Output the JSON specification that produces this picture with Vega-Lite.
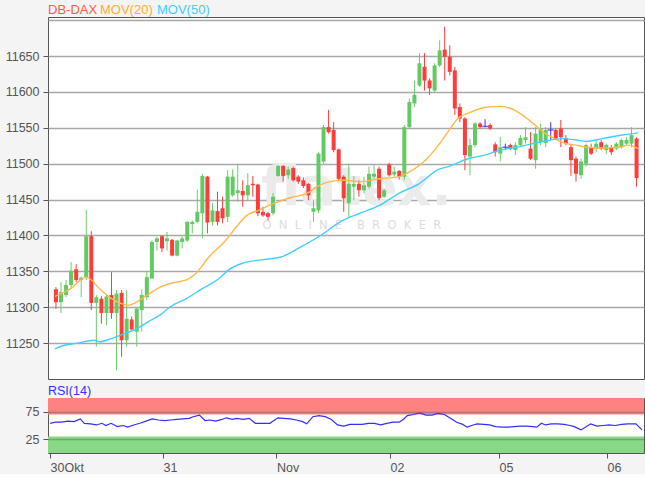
{
  "$schema": "https://vega.github.io/schema/vega-lite/v6.json",
  "background": "#f4f4f4",
  "padding": {"left": 4, "top": 2, "right": 0, "bottom": 0},
  "bounds": "flush",
  "spacing": 19,
  "config": {
    "font": "Liberation Sans",
    "view": {"stroke": "#555555", "strokeWidth": 1, "fill": "white"},
    "axis": {"labelFont": "Liberation Sans", "labelFontSize": 12.5, "labelColor": "#555555", "tickColor": "#555555", "domain": false, "title": null},
    "legend": {"labelFont": "Liberation Sans", "labelFontSize": 13, "title": null, "orient": "none", "direction": "horizontal", "padding": 0, "symbolType": "circle", "symbolSize": 0, "symbolOpacity": 0, "symbolStrokeWidth": 0, "labelOffset": 0, "legendY": -14}
  },
  "datasets": {
    "candles": [
      {"i":0,"o":11325,"h":11328,"l":11298,"c":11307},
      {"i":1,"o":11307,"h":11335,"l":11292,"c":11321},
      {"i":2,"o":11317,"h":11338,"l":11314,"c":11331},
      {"i":3,"o":11331,"h":11363,"l":11327,"c":11351},
      {"i":4,"o":11353,"h":11360,"l":11335,"c":11338},
      {"i":5,"o":11338,"h":11343,"l":11314,"c":11341},
      {"i":6,"o":11342,"h":11436,"l":11338,"c":11399},
      {"i":7,"o":11399,"h":11406,"l":11296,"c":11306},
      {"i":8,"o":11306,"h":11317,"l":11245,"c":11314},
      {"i":9,"o":11312,"h":11316,"l":11277,"c":11292},
      {"i":10,"o":11292,"h":11318,"l":11275,"c":11315},
      {"i":11,"o":11317,"h":11349,"l":11284,"c":11292},
      {"i":12,"o":11292,"h":11324,"l":11212,"c":11319},
      {"i":13,"o":11320,"h":11324,"l":11231,"c":11254},
      {"i":14,"o":11254,"h":11324,"l":11245,"c":11284},
      {"i":15,"o":11283,"h":11287,"l":11268,"c":11269},
      {"i":16,"o":11266,"h":11300,"l":11245,"c":11298},
      {"i":17,"o":11296,"h":11325,"l":11266,"c":11317},
      {"i":18,"o":11314,"h":11349,"l":11310,"c":11342},
      {"i":19,"o":11340,"h":11393,"l":11340,"c":11391},
      {"i":20,"o":11391,"h":11398,"l":11379,"c":11396},
      {"i":21,"o":11399,"h":11400,"l":11377,"c":11382},
      {"i":22,"o":11392,"h":11405,"l":11379,"c":11396},
      {"i":23,"o":11394,"h":11395,"l":11371,"c":11372},
      {"i":24,"o":11372,"h":11394,"l":11371,"c":11393},
      {"i":25,"o":11391,"h":11399,"l":11382,"c":11396},
      {"i":26,"o":11393,"h":11420,"l":11391,"c":11419},
      {"i":27,"o":11416,"h":11421,"l":11403,"c":11419},
      {"i":28,"o":11419,"h":11464,"l":11417,"c":11433},
      {"i":29,"o":11431,"h":11486,"l":11396,"c":11483},
      {"i":30,"o":11482,"h":11483,"l":11403,"c":11418},
      {"i":31,"o":11419,"h":11445,"l":11414,"c":11435},
      {"i":32,"o":11434,"h":11461,"l":11414,"c":11419},
      {"i":33,"o":11438,"h":11454,"l":11417,"c":11424},
      {"i":34,"o":11426,"h":11491,"l":11419,"c":11482},
      {"i":35,"o":11456,"h":11492,"l":11454,"c":11482},
      {"i":36,"o":11459,"h":11500,"l":11447,"c":11463},
      {"i":37,"o":11462,"h":11477,"l":11440,"c":11456},
      {"i":38,"o":11456,"h":11487,"l":11449,"c":11470},
      {"i":39,"o":11472,"h":11483,"l":11454,"c":11470},
      {"i":40,"o":11471,"h":11472,"l":11427,"c":11431},
      {"i":41,"o":11433,"h":11440,"l":11426,"c":11428},
      {"i":42,"o":11431,"h":11433,"l":11421,"c":11426},
      {"i":43,"o":11431,"h":11459,"l":11428,"c":11454},
      {"i":44,"o":11483,"h":11498,"l":11482,"c":11497},
      {"i":45,"o":11497,"h":11498,"l":11475,"c":11483},
      {"i":46,"o":11484,"h":11496,"l":11479,"c":11492},
      {"i":47,"o":11494,"h":11496,"l":11475,"c":11477},
      {"i":48,"o":11482,"h":11484,"l":11472,"c":11475},
      {"i":49,"o":11477,"h":11481,"l":11466,"c":11469},
      {"i":50,"o":11472,"h":11473,"l":11449,"c":11456},
      {"i":51,"o":11433,"h":11449,"l":11419,"c":11438},
      {"i":52,"o":11435,"h":11516,"l":11431,"c":11514},
      {"i":53,"o":11503,"h":11554,"l":11500,"c":11551},
      {"i":54,"o":11551,"h":11575,"l":11542,"c":11544},
      {"i":55,"o":11547,"h":11558,"l":11516,"c":11519},
      {"i":56,"o":11520,"h":11521,"l":11477,"c":11479},
      {"i":57,"o":11482,"h":11484,"l":11433,"c":11452},
      {"i":58,"o":11445,"h":11500,"l":11425,"c":11472},
      {"i":59,"o":11468,"h":11483,"l":11449,"c":11472},
      {"i":60,"o":11472,"h":11477,"l":11454,"c":11463},
      {"i":61,"o":11463,"h":11482,"l":11459,"c":11470},
      {"i":62,"o":11468,"h":11496,"l":11465,"c":11486},
      {"i":63,"o":11482,"h":11498,"l":11479,"c":11486},
      {"i":64,"o":11493,"h":11496,"l":11449,"c":11452},
      {"i":65,"o":11454,"h":11465,"l":11452,"c":11463},
      {"i":66,"o":11499,"h":11501,"l":11482,"c":11484},
      {"i":67,"o":11485,"h":11496,"l":11482,"c":11489},
      {"i":68,"o":11490,"h":11491,"l":11478,"c":11482},
      {"i":69,"o":11482,"h":11554,"l":11477,"c":11551},
      {"i":70,"o":11551,"h":11591,"l":11549,"c":11586},
      {"i":71,"o":11584,"h":11616,"l":11579,"c":11596},
      {"i":72,"o":11609,"h":11654,"l":11607,"c":11640},
      {"i":73,"o":11635,"h":11654,"l":11602,"c":11616},
      {"i":74,"o":11616,"h":11619,"l":11596,"c":11605},
      {"i":75,"o":11602,"h":11640,"l":11600,"c":11637},
      {"i":76,"o":11637,"h":11672,"l":11635,"c":11658},
      {"i":77,"o":11659,"h":11691,"l":11616,"c":11649},
      {"i":78,"o":11649,"h":11665,"l":11623,"c":11628},
      {"i":79,"o":11630,"h":11635,"l":11568,"c":11577},
      {"i":80,"o":11579,"h":11584,"l":11558,"c":11563},
      {"i":81,"o":11563,"h":11565,"l":11491,"c":11512},
      {"i":82,"o":11510,"h":11535,"l":11484,"c":11526},
      {"i":83,"o":11526,"h":11558,"l":11523,"c":11556},
      {"i":84,"o":11556,"h":11558,"l":11549,"c":11551},
      {"i":85,"o":11552,"h":11562,"l":11551,"c":11552},
      {"i":86,"o":11554,"h":11556,"l":11547,"c":11549},
      {"i":87,"o":11527,"h":11530,"l":11510,"c":11516},
      {"i":88,"o":11514,"h":11537,"l":11503,"c":11523},
      {"i":89,"o":11523,"h":11528,"l":11519,"c":11523},
      {"i":90,"o":11526,"h":11528,"l":11519,"c":11521},
      {"i":91,"o":11519,"h":11530,"l":11512,"c":11526},
      {"i":92,"o":11526,"h":11540,"l":11523,"c":11536},
      {"i":93,"o":11533,"h":11551,"l":11528,"c":11537},
      {"i":94,"o":11521,"h":11544,"l":11505,"c":11507},
      {"i":95,"o":11505,"h":11551,"l":11493,"c":11542},
      {"i":96,"o":11530,"h":11556,"l":11526,"c":11548},
      {"i":97,"o":11529,"h":11551,"l":11523,"c":11547},
      {"i":98,"o":11547,"h":11558,"l":11533,"c":11547},
      {"i":99,"o":11547,"h":11549,"l":11533,"c":11535},
      {"i":100,"o":11549,"h":11561,"l":11523,"c":11537},
      {"i":101,"o":11535,"h":11540,"l":11526,"c":11528},
      {"i":102,"o":11523,"h":11528,"l":11483,"c":11505},
      {"i":103,"o":11507,"h":11510,"l":11475,"c":11486},
      {"i":104,"o":11484,"h":11507,"l":11479,"c":11503},
      {"i":105,"o":11500,"h":11528,"l":11496,"c":11526},
      {"i":106,"o":11523,"h":11528,"l":11512,"c":11514},
      {"i":107,"o":11521,"h":11533,"l":11516,"c":11528},
      {"i":108,"o":11530,"h":11533,"l":11519,"c":11521},
      {"i":109,"o":11519,"h":11528,"l":11514,"c":11526},
      {"i":110,"o":11523,"h":11526,"l":11512,"c":11516},
      {"i":111,"o":11521,"h":11530,"l":11519,"c":11528},
      {"i":112,"o":11523,"h":11535,"l":11521,"c":11533},
      {"i":113,"o":11528,"h":11537,"l":11526,"c":11533},
      {"i":114,"o":11528,"h":11551,"l":11523,"c":11540},
      {"i":115,"o":11535,"h":11537,"l":11468,"c":11480}
    ],
    "ma20": [
      {"i":-0.2,"v":11315},{"i":2.9,"v":11326},{"i":6.0,"v":11342},{"i":8.9,"v":11324},{"i":10.8,"v":11313},
      {"i":14.4,"v":11303},{"i":18.3,"v":11318},{"i":20.6,"v":11328},{"i":23.8,"v":11335},{"i":25.8,"v":11338},
      {"i":27.7,"v":11347},{"i":30.3,"v":11370},{"i":33.6,"v":11393},{"i":35.5,"v":11410},{"i":37.8,"v":11428},
      {"i":40.1,"v":11435},{"i":43.3,"v":11445},{"i":46.5,"v":11453},{"i":49.8,"v":11459},{"i":51.7,"v":11468},
      {"i":54.3,"v":11475},{"i":57.3,"v":11477},{"i":60.2,"v":11475},{"i":64.1,"v":11479},{"i":68.0,"v":11482},
      {"i":70.6,"v":11491},{"i":73.2,"v":11505},{"i":75.1,"v":11520},{"i":76.7,"v":11535},{"i":77.7,"v":11545},
      {"i":79.6,"v":11563},{"i":82.2,"v":11572},{"i":85.5,"v":11579},{"i":88.1,"v":11580},{"i":90.7,"v":11575},
      {"i":93.3,"v":11563},{"i":95.2,"v":11552},{"i":96.5,"v":11544},{"i":98.5,"v":11536},{"i":101.1,"v":11528},
      {"i":103.0,"v":11526},{"i":105.0,"v":11523},{"i":108.2,"v":11522},{"i":111.5,"v":11523},{"i":113.4,"v":11526},
      {"i":115.3,"v":11521}
    ],
    "ma50": [
      {"i":-0.2,"v":11242},{"i":1.75,"v":11247},{"i":4.3,"v":11250},{"i":7.6,"v":11254},{"i":8.6,"v":11252},
      {"i":10.8,"v":11256},{"i":13.4,"v":11263},{"i":16.0,"v":11270},{"i":18.3,"v":11280},{"i":20.6,"v":11289},
      {"i":22.5,"v":11300},{"i":25.8,"v":11312},{"i":29.0,"v":11326},{"i":32.3,"v":11340},{"i":34.2,"v":11352},
      {"i":36.8,"v":11361},{"i":40.7,"v":11366},{"i":44.6,"v":11370},{"i":48.5,"v":11384},{"i":52.4,"v":11400},
      {"i":56.3,"v":11419},{"i":60.2,"v":11431},{"i":64.1,"v":11442},{"i":68.0,"v":11459},{"i":71.9,"v":11472},
      {"i":75.8,"v":11492},{"i":77.7,"v":11496},{"i":81.6,"v":11507},{"i":85.5,"v":11513},{"i":87.4,"v":11518},
      {"i":91.3,"v":11523},{"i":96.5,"v":11531},{"i":100.4,"v":11535},{"i":103.0,"v":11533},{"i":105.0,"v":11531},
      {"i":108.2,"v":11535},{"i":112.1,"v":11540},{"i":115.3,"v":11543}
    ],
    "rsi": [
      {"i":-0.15,"v":54},{"i":0.9,"v":56},{"i":2.1,"v":56},{"i":3.3,"v":58},{"i":4.5,"v":57},{"i":5.7,"v":62},
      {"i":6.5,"v":54},{"i":7.7,"v":53},{"i":8.9,"v":51},{"i":9.9,"v":54},{"i":10.7,"v":50},{"i":11.7,"v":54},
      {"i":12.9,"v":48},{"i":14.1,"v":50},{"i":14.9,"v":47},{"i":16.1,"v":51},{"i":17.3,"v":54},{"i":18.5,"v":58},
      {"i":19.7,"v":62},{"i":20.9,"v":60},{"i":22.1,"v":59},{"i":23.3,"v":60},{"i":24.5,"v":61},{"i":25.7,"v":62},
      {"i":26.9,"v":63},{"i":27.7,"v":66},{"i":28.9,"v":69},{"i":30.0,"v":59},{"i":30.9,"v":60},{"i":32.1,"v":58},
      {"i":33.3,"v":61},{"i":34.1,"v":64},{"i":35.3,"v":61},{"i":36.1,"v":63},{"i":37.4,"v":61},{"i":38.6,"v":63},
      {"i":39.8,"v":54},{"i":41.0,"v":54},{"i":42.6,"v":54},{"i":44.2,"v":64},{"i":45.4,"v":63},{"i":46.6,"v":62},
      {"i":47.8,"v":60},{"i":49.0,"v":57},{"i":49.8,"v":53},{"i":51.0,"v":66},{"i":52.2,"v":68},{"i":53.4,"v":66},
      {"i":54.6,"v":61},{"i":55.8,"v":51},{"i":57.0,"v":49},{"i":58.2,"v":52},{"i":59.4,"v":52},{"i":60.6,"v":52},
      {"i":61.8,"v":54},{"i":63.0,"v":54},{"i":64.2,"v":51},{"i":65.4,"v":54},{"i":66.6,"v":56},{"i":67.8,"v":56},
      {"i":68.6,"v":61},{"i":69.4,"v":68},{"i":70.6,"v":70},{"i":71.8,"v":73},{"i":73.0,"v":69},{"i":74.2,"v":69},
      {"i":75.4,"v":72},{"i":76.6,"v":70},{"i":77.8,"v":63},{"i":79.0,"v":56},{"i":80.2,"v":52},{"i":81.0,"v":47},
      {"i":82.2,"v":51},{"i":83.0,"v":53},{"i":84.2,"v":52},{"i":85.4,"v":51},{"i":86.6,"v":48},{"i":87.8,"v":47},
      {"i":89.0,"v":47},{"i":90.2,"v":48},{"i":91.4,"v":49},{"i":92.6,"v":49},{"i":93.8,"v":48},{"i":94.6,"v":47},
      {"i":95.5,"v":54},{"i":96.3,"v":51},{"i":97.4,"v":53},{"i":98.7,"v":53},{"i":99.9,"v":52},{"i":101.1,"v":50},
      {"i":101.9,"v":48},{"i":103.2,"v":42},{"i":104.3,"v":48},{"i":105.1,"v":53},{"i":106.3,"v":49},{"i":107.5,"v":50},
      {"i":108.7,"v":51},{"i":109.9,"v":50},{"i":111.1,"v":52},{"i":112.3,"v":53},{"i":113.9,"v":53},{"i":115.1,"v":42}
    ]
  },
  "vconcat": [
    {
      "width": 596,
      "height": 362,
      "resolve": {"scale": {"color": "independent"}, "legend": {"color": "independent"}},
      "layer": [
        {
          "data": {"values": [{}]},
          "mark": {"type": "text", "text": "flatex.", "font": "DejaVu Sans", "fontWeight": "bold", "fontSize": 53, "color": "#ebebeb", "align": "center", "baseline": "alphabetic"},
          "encoding": {
            "x": {"datum": 59.5, "type": "quantitative", "scale": {"domain": [-0.584, 115.48], "nice": false, "zero": false}, "axis": null},
            "y": {"datum": 11442, "type": "quantitative", "scale": {"domain": [11200, 11704.5], "nice": false, "zero": false},
              "axis": {
                "values": [11250, 11300, 11350, 11400, 11450, 11500, 11550, 11600, 11650, 11700],
                "format": "d",
                "labelExpr": "datum.value >= 11700 ? '' : datum.label",
                "tickSize": 5,
                "labelPadding": 4,
                "grid": true,
                "gridColor": "#a8a8a8",
                "gridWidth": 1.5,
                "tickOpacity": {"condition": {"test": "datum.value >= 11700", "value": 0}, "value": 1}
              }
            }
          }
        },
        {
          "data": {"values": [{}]},
          "mark": {"type": "text", "text": "O\u00a0\u00a0N\u00a0\u00a0L\u00a0\u00a0I\u00a0\u00a0N\u00a0\u00a0E\u00a0\u00a0\u00a0\u00a0B\u00a0\u00a0R\u00a0\u00a0O\u00a0\u00a0K\u00a0\u00a0E\u00a0\u00a0R", "font": "DejaVu Sans", "fontSize": 11.5, "color": "#dddddd", "align": "center", "baseline": "middle"},
          "encoding": {
            "x": {"datum": 58.6, "type": "quantitative"},
            "y": {"datum": 11413, "type": "quantitative"}
          }
        },
        {
          "data": {"name": "ma20"},
          "mark": {"type": "line", "opacity": 0},
          "encoding": {
            "x": {"field": "i", "type": "quantitative"},
            "y": {"field": "v", "type": "quantitative"},
            "color": {"datum": "DB-DAX", "scale": {"domain": ["DB-DAX"], "range": ["#ff5c3f"]},
              "legend": {"legendX": -13, "labelColor": "#ff5c3f"}}
          }
        },
        {
          "data": {"name": "candles"},
          "mark": {"type": "rule", "strokeWidth": 1},
          "encoding": {
            "x": {"field": "i", "type": "quantitative"},
            "y": {"field": "l", "type": "quantitative"},
            "y2": {"field": "h"},
            "color": {"condition": [{"test": "datum.c > datum.o", "value": "#6acd6a"}, {"test": "datum.c < datum.o", "value": "#ff3b3b"}], "value": "#3333ff"}
          }
        },
        {
          "data": {"name": "candles"},
          "mark": {"type": "bar", "size": 4},
          "encoding": {
            "x": {"field": "i", "type": "quantitative"},
            "y": {"field": "o", "type": "quantitative"},
            "y2": {"field": "c"},
            "color": {"condition": [{"test": "datum.c > datum.o", "value": "#63c963"}, {"test": "datum.c < datum.o", "value": "#ff3b3b"}], "value": "#3333ff"}
          }
        },
        {
          "data": {"name": "candles"},
          "transform": [{"filter": "datum.o == datum.c"}],
          "mark": {"type": "tick", "orient": "horizontal", "size": 6, "thickness": 1.5, "color": "#3333ff"},
          "encoding": {
            "x": {"field": "i", "type": "quantitative"},
            "y": {"field": "o", "type": "quantitative"}
          }
        },
        {
          "data": {"name": "ma20"},
          "mark": {"type": "line", "strokeWidth": 1.4, "interpolate": "monotone"},
          "encoding": {
            "x": {"field": "i", "type": "quantitative"},
            "y": {"field": "v", "type": "quantitative"},
            "color": {"datum": "MOV(20)", "scale": {"domain": ["MOV(20)"], "range": ["#ffb84a"]},
              "legend": {"legendX": 39, "labelColor": "#ffae2e"}}
          }
        },
        {
          "data": {"name": "ma50"},
          "mark": {"type": "line", "strokeWidth": 1.4, "interpolate": "monotone"},
          "encoding": {
            "x": {"field": "i", "type": "quantitative"},
            "y": {"field": "v", "type": "quantitative"},
            "color": {"datum": "MOV(50)", "scale": {"domain": ["MOV(50)"], "range": ["#40d0ff"]},
              "legend": {"legendX": 96, "labelColor": "#3fcfff"}}
          }
        }
      ]
    },
    {
      "width": 596,
      "height": 55,
      "title": {"text": "RSI(14)", "anchor": "start", "frame": "group", "color": "#3030ff", "fontSize": 12.5, "fontWeight": "normal", "font": "Liberation Sans", "offset": 1},
      "layer": [
        {
          "data": {"values": [{}]},
          "mark": {"type": "rect", "color": "#ff8282"},
          "encoding": {
            "y": {"datum": 70, "type": "quantitative", "scale": {"domain": [0, 100], "nice": false, "zero": false},
              "axis": {
                "values": [25, 50, 75],
                "labelExpr": "datum.value == 50 ? '' : datum.label",
                "tickSize": 5,
                "labelPadding": 4,
                "grid": true,
                "gridColor": "#606060",
                "gridOpacity": 0.45,
                "gridWidth": 1.5,
                "zindex": 1,
                "tickOpacity": {"condition": {"test": "datum.value == 50", "value": 0}, "value": 1}
              }
            },
            "y2": {"datum": 100}
          }
        },
        {
          "data": {"values": [{}]},
          "mark": {"type": "rect", "color": "#88d888"},
          "encoding": {
            "y": {"datum": 0, "type": "quantitative"},
            "y2": {"datum": 30}
          }
        },
        {
          "data": {"name": "rsi"},
          "mark": {"type": "line", "color": "#2f2fff", "strokeWidth": 1.2},
          "encoding": {
            "x": {"field": "i", "type": "quantitative", "scale": {"domain": [-0.584, 115.48], "nice": false, "zero": false},
              "axis": {
                "values": [-0.19, 21.81, 43.91, 66.02, 87.24, 108.28],
                "labelExpr": "datum.value < 10 ? '30Okt' : datum.value < 30 ? '31' : datum.value < 50 ? 'Nov' : datum.value < 70 ? '02' : datum.value < 95 ? '05' : '06'",
                "labelAlign": "left",
                "labelFlush": false,
                "tickSize": 5,
                "labelPadding": 3,
                "grid": false
              }
            },
            "y": {"field": "v", "type": "quantitative"}
          }
        }
      ]
    }
  ]
}
